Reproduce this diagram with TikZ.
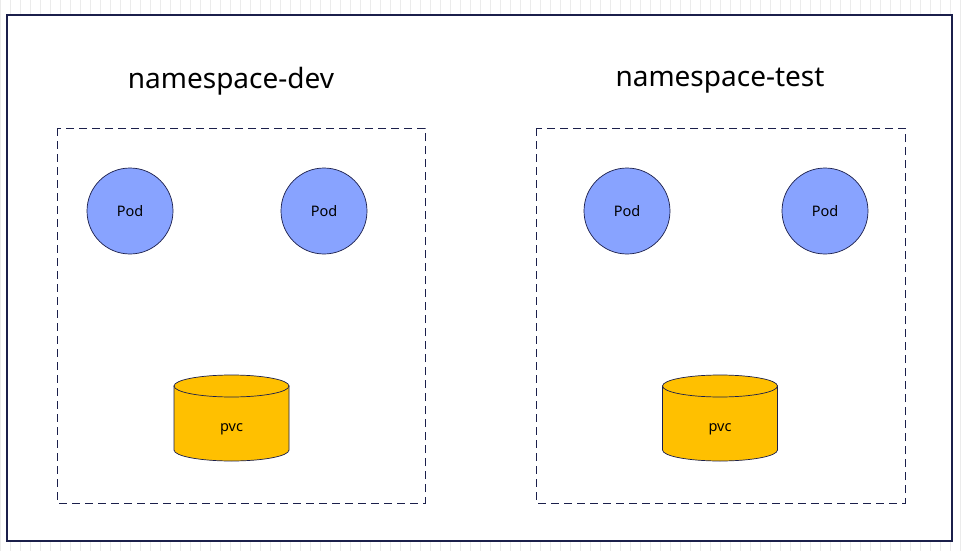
\documentclass[tikz,border=0pt]{standalone}
\usepackage{fontspec}
\setmainfont{Noto Sans}
\definecolor{navy}{HTML}{1B1F4B}
\definecolor{podblue}{HTML}{88A3FF}
\definecolor{pvcgold}{HTML}{FFC000}
\begin{document}
\begin{tikzpicture}[x=1pt,y=-1pt,
  frame/.style={draw=navy,line width=2pt,fill=white},
  nsbox/.style={draw=navy,line width=1pt,dash pattern=on 8pt off 5pt},
  pod/.style={circle,draw=navy,line width=0.7pt,fill=podblue,minimum size=86pt,inner sep=0pt,font=\fontsize{14.5}{16}\selectfont},
  cyl/.style={draw=navy,line width=0.7pt,fill=pvcgold},
  title/.style={font=\fontsize{28}{32}\selectfont},
  lbl/.style={font=\fontsize{14.5}{16}\selectfont}]
\useasboundingbox (0,0) rectangle (964,551);
\fill[white] (0,0) rectangle (964,551);
\draw[black!8,line width=0.5pt,step=10] (0,0) grid (964,551);
\draw[frame] (7,15) rectangle (952,541);

\node[title] (t1) at (231,81) {namespace-dev};
\node[title] (t2) at (720,81) {namespace-test};

\draw[nsbox] (57,128) rectangle (425,503);
\draw[nsbox] (536,128) rectangle (905,503);

\node[pod] (p1) at (130,211) {Pod};
\node[pod] (p2) at (324,211) {Pod};
\node[pod] (p3) at (627,211) {Pod};
\node[pod] (p4) at (825,211) {Pod};

\foreach \cx in {231.5,720}{
  \draw[cyl] (\cx-57.5,386) -- (\cx-57.5,450) arc[start angle=180,end angle=0,x radius=57.5,y radius=11] -- (\cx+57.5,386) -- cycle;
  \draw[cyl] (\cx,386) ellipse[x radius=57.5,y radius=11];
}
\node[lbl] (v1) at (231.5,429) {pvc};
\node[lbl] (v2) at (720,429) {pvc};
\end{tikzpicture}
\end{document}
